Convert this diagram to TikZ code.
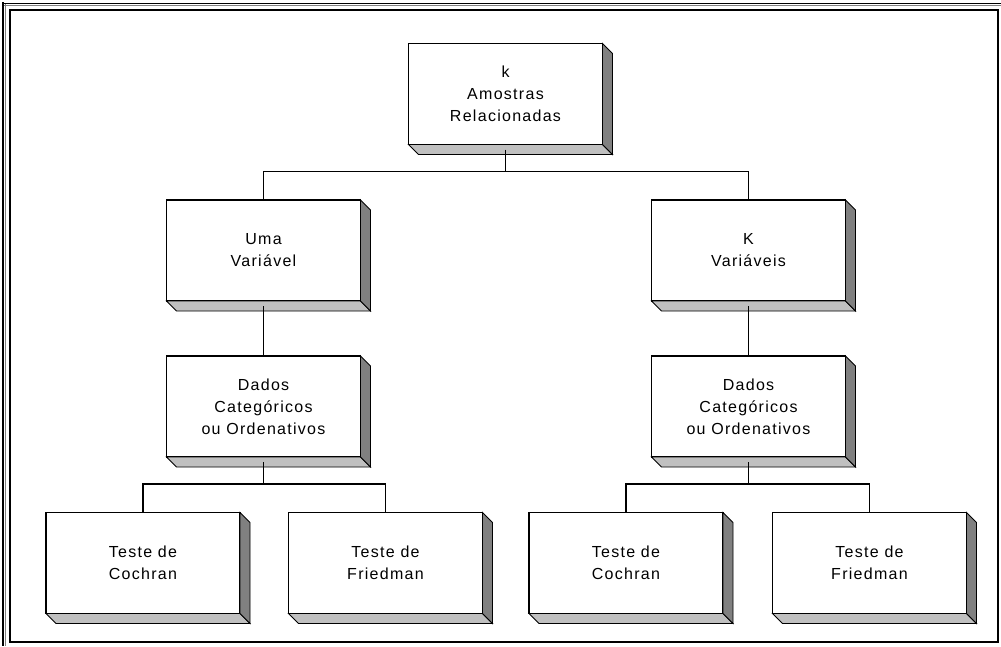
\documentclass[tikz,border=0pt]{standalone}
\usepackage{fontspec}
\setmainfont{Liberation Sans}[LetterSpace=8]
\usetikzlibrary{calc}

\definecolor{topface}{HTML}{C0C0C0}
\definecolor{sideface}{HTML}{808080}

\tikzset{
  blockbox/.style={draw=black, line width=1.4pt, fill=white, inner sep=0pt, outer sep=0pt,
    minimum width=194pt, minimum height=101pt, align=center,
    font=\fontsize{16}{22}\selectfont},
  bottomface/.style={fill=topface, draw=black, line width=0.9pt, line join=miter},
  rightface/.style={fill=sideface, draw=black, line width=0.9pt, line join=miter},
  link/.style={draw=black, line width=1.2pt},
}

\begin{document}
\begin{tikzpicture}[x=1pt, y=-1pt]
  \useasboundingbox (0,0) rectangle (1001,646);
  \fill[white] (0,0) rectangle (1001,646);

  % picture frame
  \draw[line width=2pt] (10,9.5) rectangle (998,642);
  \draw[line width=1.4pt] (2,3.5) -- (1001,3.5);
  \draw[line width=1.4pt] (3,2) -- (3,646);
  \draw[gray, line width=1pt] (4,5.5) -- (1001,5.5);
  \draw[gray, line width=1pt] (5,4) -- (5,646);

  % blocks
  \node[blockbox] (top) at (505.5,94) {k\\Amostras\\Relacionadas};
  \node[blockbox] (uma) at (263.5,250.5) {Uma\\Variável};
  \node[blockbox] (kv)  at (748.5,250.5) {K\\Variáveis};
  \node[blockbox] (dl)  at (263.5,406.5) {Dados\\Categóricos\\ou Ordenativos};
  \node[blockbox] (dr)  at (748.5,406.5) {Dados\\Categóricos\\ou Ordenativos};
  \node[blockbox] (cl)  at (143,563) {Teste de\\Cochran};
  \node[blockbox] (fl)  at (385.5,563) {Teste de\\Friedman};
  \node[blockbox] (cr)  at (626,563) {Teste de\\Cochran};
  \node[blockbox] (fr)  at (869.5,563) {Teste de\\Friedman};

  % bevelled lower and right faces of every block
  \foreach \n in {top,uma,kv,dl,dr,cl,fl,cr,fr}{
    \draw[bottomface] (\n.south west) -- ++(10,10) -- ($(\n.south east)+(10,10)$)
      -- (\n.south east) -- cycle;
    \draw[rightface] (\n.north east) -- ++(10,10) -- ($(\n.south east)+(10,10)$)
      -- (\n.south east) -- cycle;
  }

  % connectors
  \coordinate (jtop) at ($(top.south)+(0,27)$);
  \draw[link] ($(top.south)+(0,5)$) -- (jtop);
  \draw[link] (jtop) -| (uma.north);
  \draw[link] (jtop) -| (kv.north);

  \draw[link] ($(uma.south)+(0,5)$) -- (dl.north);
  \draw[link] ($(kv.south)+(0,5)$) -- (dr.north);

  \coordinate (jl) at ($(dl.south)+(0,27)$);
  \draw[link] ($(dl.south)+(0,5)$) -- (jl);
  \draw[link] (jl) -| (cl.north);
  \draw[link] (jl) -| (fl.north);

  \coordinate (jr) at ($(dr.south)+(0,27)$);
  \draw[link] ($(dr.south)+(0,5)$) -- (jr);
  \draw[link] (jr) -| (cr.north);
  \draw[link] (jr) -| (fr.north);
\end{tikzpicture}
\end{document}
